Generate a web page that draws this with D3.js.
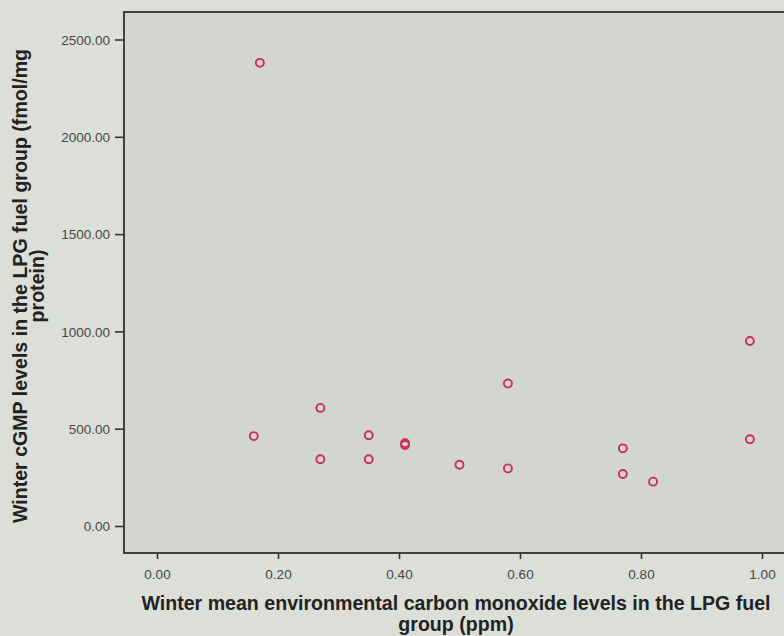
<!DOCTYPE html>
<html>
<head>
<meta charset="utf-8">
<script src="https://cdn.jsdelivr.net/npm/d3@7"></script>
<style>
  html, body { margin: 0; padding: 0; background: #dcdfd8; }
  svg { display: block; }
</style>
</head>
<body>
<svg id="chart" width="784" height="636"></svg>
<script>
// Data
const coLevels = [0.17, 0.16, 0.27, 0.27, 0.35, 0.35, 0.41, 0.41, 0.50, 0.58, 0.58, 0.77, 0.77, 0.82, 0.98, 0.98];
const cgmpLevels = [2380, 462, 607, 343, 466, 343, 416, 425, 315, 732, 296, 399, 267, 228, 951, 446];
const xTicks = [0.00, 0.20, 0.40, 0.60, 0.80, 1.00];
const yTicks = [0, 500, 1000, 1500, 2000, 2500];
const xTitleLines = ["Winter mean environmental carbon monoxide levels in the LPG fuel", "group (ppm)"];
const yTitleLines = ["Winter cGMP levels in the LPG fuel group (fmol/mg", "protein)"];

const svg = d3.select("#chart");
const W = 784, H = 636;
const FONT = "Liberation Sans, Arial, sans-serif";

const frame = { left: 124, top: 12, right: 792, bottom: 553 };

const x = d3.scaleLinear().domain([0, 1]).range([157, 762]);
const y = d3.scaleLinear().domain([0, 2500]).range([526, 39.5]);

// background
svg.append("rect").attr("width", W).attr("height", H).attr("fill", "#dcdfd8");

// plot area
svg.append("rect")
  .attr("x", frame.left).attr("y", frame.top)
  .attr("width", frame.right - frame.left).attr("height", frame.bottom - frame.top)
  .attr("fill", "#d3d5cf")
  .attr("stroke", "#2e3330").attr("stroke-width", 1.8);

// y axis
const yAxis = d3.axisLeft(y).tickValues(yTicks).tickFormat(d3.format(".2f")).tickSize(9).tickPadding(5);
const gy = svg.append("g").attr("transform", `translate(${frame.left},0)`).call(yAxis);
gy.select(".domain").remove();
gy.selectAll(".tick line").attr("stroke", "#333").attr("stroke-width", 1.6);
gy.selectAll(".tick text").attr("fill", "#474747").attr("dy", "0.35em")
  .style("font-family", FONT).style("font-size", "13.5px");

// x axis
const xAxis = d3.axisBottom(x).tickValues(xTicks).tickFormat(d3.format(".2f")).tickSize(6).tickPadding(10);
const gx = svg.append("g").attr("transform", `translate(0,${frame.bottom})`).call(xAxis);
gx.select(".domain").remove();
gx.selectAll(".tick line").attr("stroke", "#333").attr("stroke-width", 1.6);
gx.selectAll(".tick text").attr("fill", "#474747")
  .style("font-family", FONT).style("font-size", "13.5px");

// points
svg.append("g").selectAll("circle")
  .data(coLevels.map((v, i) => ({ x: v, y: cgmpLevels[i] })))
  .join("circle")
  .attr("cx", d => x(d.x))
  .attr("cy", d => y(d.y))
  .attr("r", 4)
  .attr("fill", "none")
  .attr("stroke", "#c92f58")
  .attr("stroke-width", 1.9);

// x title
const xt = svg.append("text")
  .attr("text-anchor", "middle")
  .attr("fill", "#222")
  .style("font-family", FONT)
  .style("font-weight", "bold")
  .style("font-size", "19.6px");
xTitleLines.forEach((t, i) => {
  xt.append("tspan").attr("x", 456).attr("y", 610 + i * 21).text(t);
});

// y title
const yt = svg.append("text")
  .attr("text-anchor", "middle")
  .attr("transform", "translate(0,286) rotate(-90)")
  .attr("fill", "#222")
  .style("font-family", FONT)
  .style("font-weight", "bold")
  .style("font-size", "19.6px");
yTitleLines.forEach((t, i) => {
  yt.append("tspan").attr("x", 0).attr("y", 27 + i * 17).text(t);
});
</script>
</body>
</html>
